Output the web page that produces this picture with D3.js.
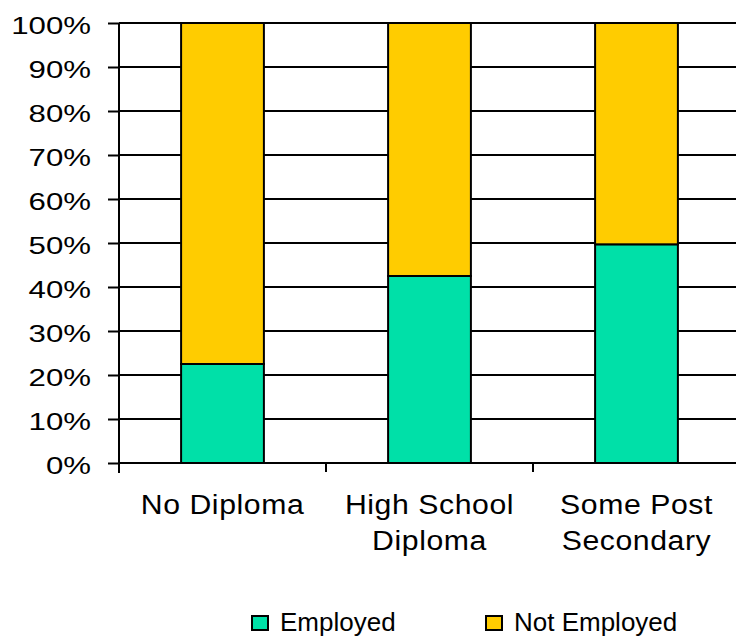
<!DOCTYPE html>
<html>
<head>
<meta charset="utf-8">
<script src="https://cdn.jsdelivr.net/npm/d3@7"></script>
<style>
  html, body { margin: 0; padding: 0; background: #fff; }
  svg { display: block; font-family: "Liberation Sans", Arial, sans-serif; }
</style>
</head>
<body>
<svg id="chart" width="736" height="637"></svg>
<script>
// Share of each education group employed / not employed (percent)
const categories = [["No Diploma"], ["High School", "Diploma"], ["Some Post", "Secondary"]];
const employed = [22.5, 42.5, 49.7];
const notEmployed = employed.map(v => 100 - v);
const seriesNames = ["Employed", "Not Employed"];
const seriesColors = ["#00E0A8", "#FFCC00"];
const yTicks = [0, 10, 20, 30, 40, 50, 60, 70, 80, 90, 100];

const svg = d3.select("#chart");
const plotLeft = 119, plotRight = 740, plotTop = 23, plotBottom = 463;
const wide = 1.3; // horizontal stretch of the tick lettering

const x = d3.scaleBand()
  .domain(d3.range(categories.length))
  .range([plotLeft, plotRight])
  .paddingInner(0)
  .paddingOuter(0);
const barWidth = x.bandwidth() * 0.4;

const y = d3.scaleLinear().domain([0, 100]).range([plotBottom, plotTop]);

// Horizontal gridlines
svg.append("g")
  .selectAll("line")
  .data(yTicks)
  .join("line")
  .attr("x1", plotLeft).attr("x2", plotRight)
  .attr("y1", d => y(d)).attr("y2", d => y(d))
  .attr("stroke", "#000").attr("stroke-width", 2);

// Stacked bars
const rows = categories.map((c, i) => ({ i, Employed: employed[i], "Not Employed": notEmployed[i] }));
const stacked = d3.stack().keys(seriesNames)(rows);

svg.append("g")
  .selectAll("g")
  .data(stacked)
  .join("g")
  .attr("fill", (d, k) => seriesColors[k])
  .selectAll("rect")
  .data(d => d)
  .join("rect")
  .attr("x", d => x(d.data.i) + (x.bandwidth() - barWidth) / 2)
  .attr("width", barWidth)
  .attr("y", d => y(d[1]))
  .attr("height", d => y(d[0]) - y(d[1]))
  .attr("stroke", "#000")
  .attr("stroke-width", 2);

// Y axis ticks
const yAxis = d3.axisLeft(y)
  .tickValues(yTicks)
  .tickSize(11)
  .tickFormat("");
const yg = svg.append("g").attr("transform", `translate(${plotLeft},0)`).call(yAxis);
yg.select(".domain").remove();
yg.selectAll(".tick line").attr("stroke", "#000").attr("stroke-width", 2);

// Y tick labels, stretched horizontally
svg.append("g")
  .selectAll("text")
  .data(yTicks)
  .join("text")
  .attr("transform", d => `translate(91,${y(d) + 11}) scale(${wide},1)`)
  .attr("text-anchor", "end")
  .style("font-size", "24px")
  .attr("fill", "#000")
  .text(d => d + "%");

// Vertical axis line
svg.append("line")
  .attr("x1", plotLeft).attr("x2", plotLeft)
  .attr("y1", plotTop).attr("y2", plotBottom + 10)
  .attr("stroke", "#000").attr("stroke-width", 2);

// Category dividers below the baseline
svg.append("g")
  .selectAll("line")
  .data(d3.range(1, categories.length))
  .join("line")
  .attr("x1", d => x(d)).attr("x2", d => x(d))
  .attr("y1", plotBottom).attr("y2", plotBottom + 9)
  .attr("stroke", "#000").attr("stroke-width", 2);

// Category labels
const catLabels = svg.append("g")
  .selectAll("text")
  .data(categories)
  .join("text")
  .attr("transform", (d, i) => `translate(${x(i) + x.bandwidth() / 2},514) scale(1.12,1)`)
  .attr("text-anchor", "middle")
  .style("font-size", "27px")
  .style("letter-spacing", "0.5px")
  .attr("fill", "#000");
catLabels.selectAll("tspan")
  .data(d => d)
  .join("tspan")
  .attr("x", 0)
  .attr("dy", (d, j) => j === 0 ? 0 : 36)
  .text(d => d);

// Legend
const legendX = [252, 486];
const legend = svg.append("g")
  .selectAll("g")
  .data(seriesNames)
  .join("g")
  .attr("transform", (d, k) => `translate(${legendX[k]},616)`);
legend.append("rect")
  .attr("width", 16).attr("height", 14)
  .attr("fill", (d, k) => seriesColors[k])
  .attr("stroke", "#000").attr("stroke-width", 2);
legend.append("text")
  .attr("transform", "translate(28,15) scale(1.04,1)")
  .style("font-size", "25px")
  .attr("fill", "#000")
  .text(d => d);
</script>
</body>
</html>
